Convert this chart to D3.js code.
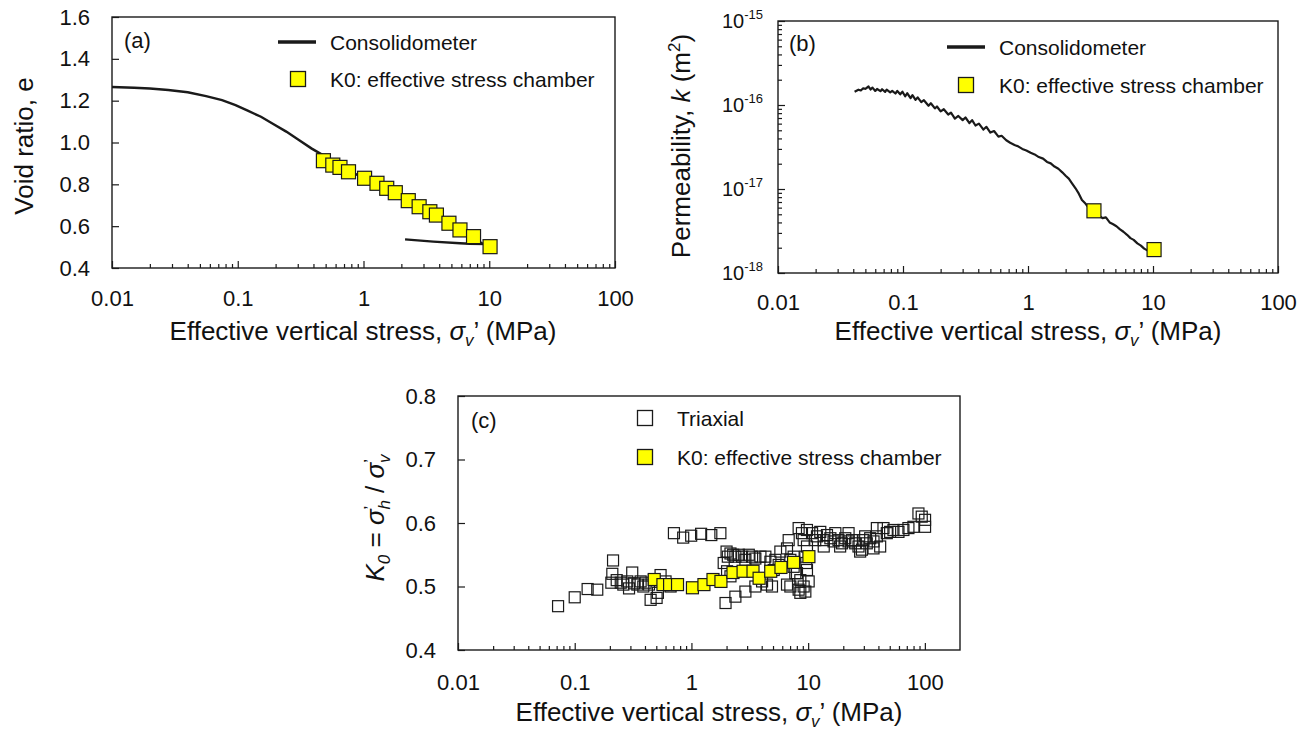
<!DOCTYPE html>
<html>
<head>
<meta charset="utf-8">
<script src="https://d3js.org/d3.v7.min.js"></script>
<style>
    body { margin: 0; background: #fff; }
    svg text { font-family: 'Liberation Sans', Arial, sans-serif; fill: #111; }
</style>
</head>
<body>
<svg id="chart" width="1310" height="732"></svg>
<script>
// ticks
let stressTicks = [0.01, 0.1, 1, 10, 100]
let voidTicks = [0.4, 0.6, 0.8, 1.0, 1.2, 1.4, 1.6]
let permTicks = [1e-18, 1e-17, 1e-16, 1e-15]
let permExponents = ['-18', '-17', '-16', '-15']
let k0Ticks = [0.4, 0.5, 0.6, 0.7, 0.8]

// (a) consolidometer: loading to ~9 MPa, then unloading back to ~2 MPa
let consolStress = [0.01, 0.015, 0.02, 0.028, 0.04, 0.056, 0.075, 0.096, 0.12, 0.153, 0.19, 0.243, 0.3, 0.385, 0.468, 0.6, 0.8, 1.0, 1.5, 2, 3, 4, 5, 6, 7, 8, 8.9, 7, 5.85, 3.59, 2.14]
let consolVoid = [1.265, 1.262, 1.258, 1.251, 1.24, 1.222, 1.203, 1.179, 1.152, 1.123, 1.09, 1.052, 1.015, 0.972, 0.942, 0.9, 0.858, 0.832, 0.78, 0.745, 0.688, 0.645, 0.61, 0.578, 0.553, 0.532, 0.515, 0.516, 0.518, 0.526, 0.537]

// K0 effective stress chamber steps
let chamberStress = [0.48, 0.57, 0.65, 0.76, 1.02, 1.28, 1.53, 1.79, 2.27, 2.77, 3.37, 3.8, 4.78, 5.85, 7.5, 10.15]
let chamberVoid = [0.913, 0.892, 0.881, 0.860, 0.829, 0.805, 0.781, 0.760, 0.722, 0.693, 0.669, 0.653, 0.614, 0.582, 0.550, 0.502]
let chamberK0 = [0.511, 0.503, 0.503, 0.503, 0.498, 0.503, 0.511, 0.508, 0.522, 0.524, 0.524, 0.513, 0.524, 0.530, 0.538, 0.547]
let chamberPermStress = [3.37, 10.2]
let chamberPerm = [5.5e-18, 1.9e-18]

// (b) consolidometer permeability [stress MPa, k m2]
let consolPerm = [
    [0.041, 1.44e-16], [0.044, 1.52e-16], [0.046, 1.49e-16], [0.048, 1.58e-16], [0.050, 1.56e-16],
    [0.053, 1.66e-16], [0.055, 1.53e-16], [0.057, 1.61e-16], [0.060, 1.47e-16], [0.062, 1.55e-16],
    [0.066, 1.46e-16], [0.068, 1.54e-16], [0.072, 1.43e-16], [0.074, 1.52e-16], [0.079, 1.41e-16],
    [0.082, 1.47e-16], [0.087, 1.37e-16], [0.090, 1.47e-16], [0.095, 1.34e-16], [0.099, 1.44e-16],
    [0.104, 1.27e-16], [0.108, 1.38e-16], [0.115, 1.21e-16], [0.119, 1.31e-16], [0.126, 1.15e-16],
    [0.131, 1.23e-16], [0.14, 1.08e-16], [0.147, 1.14e-16], [0.16, 9.8e-17], [0.167, 1.05e-16],
    [0.18, 9.1e-17], [0.187, 9.6e-17], [0.2, 8.4e-17], [0.212, 8.9e-17], [0.23, 7.7e-17],
    [0.242, 8.1e-17], [0.26, 6.9e-17], [0.277, 7.4e-17], [0.3, 6.6e-17], [0.316, 7.1e-17],
    [0.34, 6.1e-17], [0.357, 6.6e-17], [0.38, 5.7e-17], [0.405, 6.0e-17], [0.44, 5.1e-17],
    [0.465, 5.5e-17], [0.5, 4.7e-17], [0.535, 4.9e-17], [0.58, 4.2e-17], [0.615, 4.3e-17],
    [0.67, 3.8e-17], [0.72, 3.55e-17], [0.78, 3.35e-17], [0.84, 3.2e-17], [0.9, 3.0e-17],
    [0.97, 2.88e-17], [1.05, 2.7e-17], [1.13, 2.58e-17], [1.22, 2.4e-17], [1.32, 2.3e-17],
    [1.42, 2.1e-17], [1.52, 2.02e-17], [1.63, 1.85e-17], [1.75, 1.74e-17], [1.88, 1.58e-17],
    [2.0, 1.44e-17], [2.12, 1.33e-17], [2.25, 1.17e-17], [2.4, 1.02e-17], [2.55, 8.8e-18],
    [2.7, 7.4e-18], [2.88, 6.7e-18], [3.05, 6.0e-18], [3.25, 5.6e-18], [3.45, 5.3e-18],
    [3.7, 4.8e-18], [3.95, 4.5e-18], [4.2, 4.6e-18], [4.5, 4.0e-18], [4.8, 3.8e-18],
    [5.1, 3.6e-18], [5.45, 3.3e-18], [5.8, 3.1e-18], [6.2, 2.85e-18], [6.6, 2.6e-18],
    [7.0, 2.48e-18], [7.5, 2.25e-18], [8.0, 2.12e-18], [8.5, 1.95e-18], [9.0, 1.86e-18],
    [9.25, 1.97e-18]
]

// (c) triaxial K0 [stress MPa, K0]
let triaxial = [
    [0.072, 0.469], [0.100, 0.483], [0.129, 0.496], [0.156, 0.495], [0.213, 0.541], [0.210, 0.520],
    [0.206, 0.506], [0.229, 0.510], [0.248, 0.506], [0.261, 0.503], [0.282, 0.508], [0.292, 0.497],
    [0.311, 0.522], [0.322, 0.505], [0.344, 0.503], [0.367, 0.508], [0.387, 0.500], [0.405, 0.506],
    [0.433, 0.503], [0.447, 0.479], [0.503, 0.482], [0.516, 0.490], [0.544, 0.518], [0.477, 0.510],
    [0.573, 0.503], [0.600, 0.508], [0.663, 0.500],
    [0.708, 0.584], [0.850, 0.577], [0.995, 0.580], [1.21, 0.583], [1.48, 0.581], [1.77, 0.584],
    [1.89, 0.537], [2.00, 0.555], [2.05, 0.547], [2.16, 0.552], [2.28, 0.550], [2.38, 0.547],
    [2.55, 0.550], [2.72, 0.547], [2.90, 0.542], [3.10, 0.550], [3.31, 0.547], [3.53, 0.544],
    [3.90, 0.547], [4.30, 0.547], [4.75, 0.539], [5.24, 0.542], [5.07, 0.526], [5.59, 0.534],
    [1.96, 0.474], [2.38, 0.484], [2.90, 0.492], [3.53, 0.500], [4.03, 0.508], [4.44, 0.503],
    [4.90, 0.500], [2.02, 0.524], [2.16, 0.516],
    [5.78, 0.555], [6.59, 0.560], [7.04, 0.542], [6.81, 0.573], [7.51, 0.531], [8.02, 0.521],
    [8.29, 0.592], [8.85, 0.584], [9.15, 0.573], [9.46, 0.547], [9.77, 0.526], [8.57, 0.510],
    [9.15, 0.500], [8.29, 0.495], [9.46, 0.492], [8.57, 0.490], [10.1, 0.508], [6.59, 0.503],
    [7.04, 0.500], [7.76, 0.521], [7.51, 0.547], [9.77, 0.589], [9.77, 0.563], [9.64, 0.537],
    [10.8, 0.584], [11.5, 0.573], [11.9, 0.579], [12.7, 0.586], [13.6, 0.573], [14.5, 0.581],
    [15.5, 0.576], [16.5, 0.571], [17.1, 0.584], [18.2, 0.573], [19.5, 0.568], [20.8, 0.576],
    [22.2, 0.571], [23.7, 0.573], [25.3, 0.568], [27.0, 0.563], [28.9, 0.558], [29.8, 0.573],
    [31.8, 0.568], [34.0, 0.576], [36.3, 0.571], [38.8, 0.579], [41.4, 0.563], [44.2, 0.592],
    [47.2, 0.584], [50.4, 0.586], [53.8, 0.589], [59.4, 0.586], [65.5, 0.589], [72.3, 0.592],
    [79.8, 0.594], [88.1, 0.615], [94.0, 0.610], [100.4, 0.605], [100.4, 0.594], [27.9, 0.555],
    [36.3, 0.560], [30.8, 0.579], [22.2, 0.584], [18.8, 0.563], [13.6, 0.563], [38.8, 0.592]
]

let svg = d3.select('#chart')
let yellow = '#ffff00'
let ink = '#1a1a1a'

let xA = d3.scaleLog().domain([0.01, 100]).range([112, 615])
let yA = d3.scaleLinear().domain([0.4, 1.6]).range([268, 17])
let xB = d3.scaleLog().domain([0.01, 100]).range([778, 1278])
let yB = d3.scaleLog().domain([1e-18, 1e-15]).range([273, 21])
let xC = d3.scaleLog().domain([0.01, 200]).range([458, 960])
let yC = d3.scaleLinear().domain([0.4, 0.8]).range([650, 396])

let isDecade = (t) => Math.abs(Math.log10(t) - Math.round(Math.log10(t))) < 1e-6

let styleAxis = (a) => {
    a.select('.domain').remove()
    a.attr('font-family', null).attr('color', ink)
    a.selectAll('line').attr('stroke-width', 1.2)
    a.selectAll('text').attr('font-size', 22)
}

let drawFrame = (x, y) => {
    svg.append('rect')
        .attr('x', x.range()[0])
        .attr('y', y.range()[1])
        .attr('width', x.range()[1] - x.range()[0])
        .attr('height', y.range()[0] - y.range()[1])
        .attr('fill', 'none')
        .attr('stroke', ink)
        .attr('stroke-width', 1.4)
}

let drawStressAxis = (x, y, pad) => {
    let base = y.range()[0]
    let minor = x.ticks().filter((t) => t <= 100 && !isDecade(t))
    svg.append('g')
        .attr('transform', `translate(0,${base})`)
        .call(d3.axisBottom(x).tickValues(minor).tickSize(-4).tickFormat(''))
        .call(styleAxis)
    svg.append('g')
        .attr('transform', `translate(0,${base})`)
        .call(d3.axisBottom(x).tickValues(stressTicks).tickSize(-7).tickPadding(pad).tickFormat((d) => String(d)))
        .call(styleAxis)
}

let drawLinearY = (x, y, ticks, fmt) => {
    let left = x.range()[0]
    svg.append('g')
        .attr('transform', `translate(${left},0)`)
        .call(d3.axisLeft(y).tickValues(ticks).tickSize(-7).tickPadding(22).tickFormat(fmt))
        .call(styleAxis)
}

let stressTitle = (cx, y) => {
    let t = svg.append('text')
        .attr('x', cx)
        .attr('y', y)
        .attr('text-anchor', 'middle')
        .attr('font-size', 26)
    t.append('tspan').text('Effective vertical stress, ')
    t.append('tspan').attr('font-style', 'italic').text('σ')
    t.append('tspan').attr('font-style', 'italic').attr('font-size', 17).attr('dy', 6).text('v')
    t.append('tspan').attr('dy', -6).text('’ (MPa)')
}

let squares = (data, x, y, size, fill, stroke) => {
    svg.append('g')
        .selectAll('rect')
        .data(data)
        .enter()
        .append('rect')
        .attr('x', (d) => x(d[0]) - size / 2)
        .attr('y', (d) => y(d[1]) - size / 2)
        .attr('width', size)
        .attr('height', size)
        .attr('fill', fill)
        .attr('stroke', stroke)
        .attr('stroke-width', 1.2)
}

let legendLine = (x1, x2, y, label) => {
    svg.append('line')
        .attr('x1', x1).attr('x2', x2)
        .attr('y1', y).attr('y2', y)
        .attr('stroke', ink)
        .attr('stroke-width', 3.5)
    svg.append('text')
        .attr('x', x2 + 14)
        .attr('y', y + 7.5)
        .attr('font-size', 21)
        .text(label)
}

let legendSquare = (cx, cy, fill, label, tx) => {
    svg.append('rect')
        .attr('x', cx - 7.5).attr('y', cy - 7.5)
        .attr('width', 15).attr('height', 15)
        .attr('fill', fill)
        .attr('stroke', ink)
        .attr('stroke-width', 1.3)
    svg.append('text')
        .attr('x', tx)
        .attr('y', cy + 7.5)
        .attr('font-size', 21)
        .text(label)
}

let panelLabel = (x, y, label) => {
    svg.append('text')
        .attr('x', x)
        .attr('y', y)
        .attr('font-size', 22)
        .text(label)
}

// ---------- (a) void ratio ----------
drawFrame(xA, yA)
drawStressAxis(xA, yA, 22)
drawLinearY(xA, yA, voidTicks, d3.format('.1f'))

svg.append('path')
    .datum(consolStress.map((s, i) => [s, consolVoid[i]]))
    .attr('d', d3.line().x((d) => xA(d[0])).y((d) => yA(d[1])))
    .attr('fill', 'none')
    .attr('stroke', ink)
    .attr('stroke-width', 2.4)

squares(chamberStress.map((s, i) => [s, chamberVoid[i]]), xA, yA, 14, yellow, ink)

panelLabel(124, 48, '(a)')
legendLine(278, 316, 42, 'Consolidometer')
legendSquare(298, 79, yellow, 'K0: effective stress chamber', 330)
stressTitle(363, 340)

svg.append('text')
    .attr('transform', 'translate(33,146) rotate(-90)')
    .attr('text-anchor', 'middle')
    .attr('font-size', 26)
    .text('Void ratio, e')

// ---------- (b) permeability ----------
drawFrame(xB, yB)
drawStressAxis(xB, yB, 21)

let permMinor = yB.ticks().filter((t) => !isDecade(t))
svg.append('g')
    .attr('transform', `translate(${xB.range()[0]},0)`)
    .call(d3.axisLeft(yB).tickValues(permMinor).tickSize(-4).tickFormat(''))
    .call(styleAxis)
svg.append('g')
    .attr('transform', `translate(${xB.range()[0]},0)`)
    .call(d3.axisLeft(yB).tickValues(permTicks).tickSize(-7).tickFormat(''))
    .call(styleAxis)

let permLabels = svg.append('g')
    .selectAll('text')
    .data(permTicks)
    .enter()
    .append('text')
    .attr('x', xB.range()[0] - 15)
    .attr('y', (d) => yB(d) + 7)
    .attr('text-anchor', 'end')
    .attr('font-size', 20)
permLabels.append('tspan').text('10')
permLabels.append('tspan')
    .attr('font-size', 13)
    .attr('dy', -9)
    .text((d, i) => permExponents[i])

svg.append('path')
    .datum(consolPerm)
    .attr('d', d3.line().x((d) => xB(d[0])).y((d) => yB(d[1])))
    .attr('fill', 'none')
    .attr('stroke', ink)
    .attr('stroke-width', 2.2)
    .attr('stroke-linejoin', 'round')

squares(chamberPermStress.map((s, i) => [s, chamberPerm[i]]), xB, yB, 14, yellow, ink)

panelLabel(789, 51, '(b)')
legendLine(947, 985, 47, 'Consolidometer')
legendSquare(966, 85, yellow, 'K0: effective stress chamber', 999)
stressTitle(1028, 340)

let permTitle = svg.append('text')
    .attr('transform', 'translate(690,146) rotate(-90)')
    .attr('text-anchor', 'middle')
    .attr('font-size', 26)
permTitle.append('tspan').text('Permeability, ')
permTitle.append('tspan').attr('font-style', 'italic').text('k')
permTitle.append('tspan').text(' (m')
permTitle.append('tspan').attr('font-size', 17).attr('dy', -10).text('2')
permTitle.append('tspan').attr('dy', 10).text(')')

// ---------- (c) K0 ----------
drawFrame(xC, yC)
drawStressAxis(xC, yC, 24)
drawLinearY(xC, yC, k0Ticks, d3.format('.1f'))

squares(triaxial, xC, yC, 11, 'none', ink)
squares(chamberStress.map((s, i) => [s, chamberK0[i]]), xC, yC, 12, yellow, ink)

panelLabel(471, 428, '(c)')
legendSquare(645, 418, 'none', 'Triaxial', 677)
legendSquare(645, 457, yellow, 'K0: effective stress chamber', 677)
stressTitle(709, 721)

let k0Title = svg.append('text')
    .attr('transform', 'translate(384,518) rotate(-90)')
    .attr('text-anchor', 'middle')
    .attr('font-size', 26)
k0Title.append('tspan').attr('font-style', 'italic').text('K')
k0Title.append('tspan').attr('font-style', 'italic').attr('font-size', 17).attr('dy', 6).text('0')
k0Title.append('tspan').attr('dy', -6).text(' = ')
k0Title.append('tspan').attr('font-style', 'italic').text('σ')
k0Title.append('tspan').attr('font-size', 17).attr('dy', -8).text('’')
k0Title.append('tspan').attr('font-style', 'italic').attr('font-size', 17).attr('dx', -4).attr('dy', 14).text('h')
k0Title.append('tspan').attr('dy', -6).text(' / ')
k0Title.append('tspan').attr('font-style', 'italic').text('σ')
k0Title.append('tspan').attr('font-size', 17).attr('dy', -8).text('’')
k0Title.append('tspan').attr('font-style', 'italic').attr('font-size', 17).attr('dx', -4).attr('dy', 14).text('v')
</script>
</body>
</html>
